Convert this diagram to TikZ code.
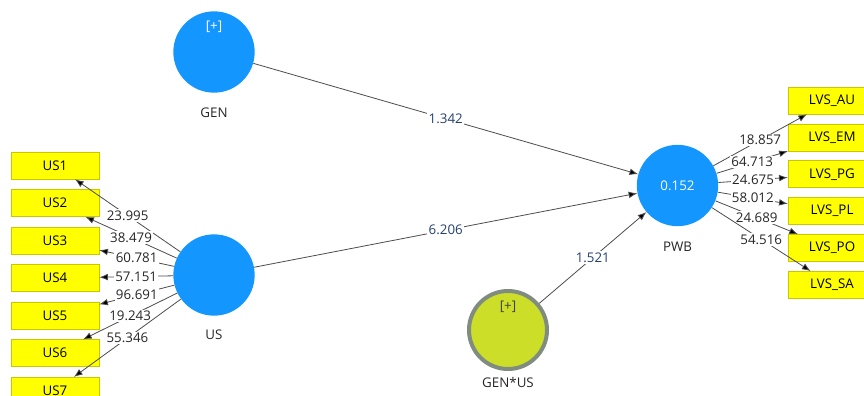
\documentclass[tikz,border=0pt]{standalone}
\usepackage{fontspec}
\setmainfont{Open Sans}
\usetikzlibrary{positioning,arrows,arrows.meta}

\definecolor{lvblue}{RGB}{20,150,255}
\definecolor{indyellow}{RGB}{255,255,0}
\definecolor{indborder}{RGB}{200,200,0}
\definecolor{modgreen}{RGB}{205,222,40}
\definecolor{modgrey}{RGB}{128,140,128}
\definecolor{coefblue}{RGB}{35,65,115}

\begin{document}
\begin{tikzpicture}[x=0.75pt,y=-0.75pt,
				font=\fontsize{10}{12}\selectfont,
				latent/.style={
					circle,
					fill=lvblue,
					minimum size=61pt,
					inner sep=0pt,
					text=white
				},
				moder/.style={
					circle,
					draw=modgrey,
					line width=3pt,
					fill=modgreen,
					minimum size=58.5pt,
					inner sep=0pt
				},
				indic/.style={
					rectangle,
					draw=indborder,
					fill=indyellow,
					minimum width=66pt,
					minimum height=20.25pt,
					inner sep=1pt
				},
				load/.style={
					-{Latex[length=6.5pt,width=5pt,fill=black]},
					draw=black!70,
					line width=0.6pt
				},
				wt/.style={
					fill=white,
					inner sep=1pt,
					text=black!85
				},
				coef/.style={
					fill=white,
					inner sep=1pt,
					text=coefblue
				},
				node distance=7.5pt
			]
			\useasboundingbox (0,0) rectangle (864,396);
			\clip (0,0) rectangle (864,396);

			% latent variables
			\node[latent,label={[text=white,anchor=center,yshift=-12pt]north:{[+]}},
				label={[text=black!85,label distance=7.5pt]below:GEN}] 
			(gen) at (214,52) {};
			\node[latent,label={[text=black!85,label distance=7pt]below:US}] 
			(us) at (214,275) {};
			\node[latent,label={[text=black!85,label distance=8pt]below:PWB}] 
			(pwb) at (677.5,185.5) {0.152};
			\node[moder,label={[text=black!75,anchor=center,yshift=-13pt]north:{[+]}},
				label={[text=black!85,label distance=3.5pt,inner sep=1pt]below:GEN*US}] 
			(genus) at (508,330) {};

			% indicators of US
			\node[indic] (us1) at (55,165.5) {US1};
			\node[indic,below=of us1] (us2) {US2};
			\node[indic,below=of us2] (us3) {US3};
			\node[indic,below=of us3] (us4) {US4};
			\node[indic,below=of us4] (us5) {US5};
			\node[indic,below=of us5] (us6) {US6};
			\node[indic,below=of us6] (us7) {US7};

			% indicators of PWB
			\begin{scope}[node distance=7pt]
				\node[indic] (au) at (832,100.5) {LVS\_AU};
				\node[indic,below=of au] (em) {LVS\_EM};
				\node[indic,below=of em] (pg) {LVS\_PG};
				\node[indic,below=of pg] (pl) {LVS\_PL};
				\node[indic,below=of pl] (po) {LVS\_PO};
				\node[indic,below=of po] (sa) {LVS\_SA};
			\end{scope}

			\draw[load] (us) -- node[wt] {23.995} (us1);
			\draw[load] (us) -- node[wt] {38.479} (us2);
			\draw[load] (us) -- node[wt] {60.781} (us3);
			\draw[load] (us) -- node[wt] {57.151} (us4);
			\draw[load] (us) -- node[wt] {96.691} (us5);
			\draw[load] (us) -- node[wt] {19.243} (us6);
			\draw[load] (us) -- node[wt] {55.346} (us7);

			\draw[load] (pwb) -- node[wt] {18.857} (au);
			\draw[load] (pwb) -- node[wt] {64.713} (em);
			\draw[load] (pwb) -- node[wt] {24.675} (pg);
			\draw[load] (pwb) -- node[wt] {58.012} (pl);
			\draw[load] (pwb) -- node[wt] {24.689} (po);
			\draw[load] (pwb) -- node[wt] {54.516} (sa);

			\draw[load] (gen) -- node[coef] {1.342} (pwb);
			\draw[load] (us) -- node[coef] {6.206} (pwb);
			\draw[load] (genus) -- node[coef] {1.521} (pwb);
		\end{tikzpicture}
\end{document}
